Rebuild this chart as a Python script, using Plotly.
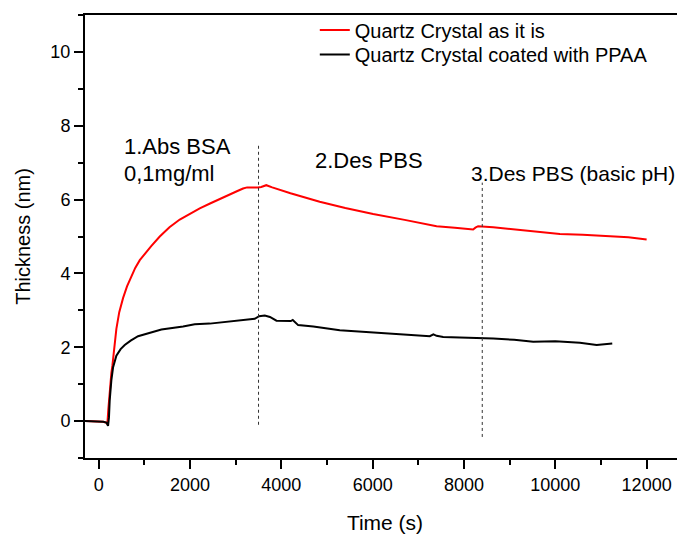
import plotly.graph_objects as go

# Quartz Crystal as it is (red)
red_t = [-300, 0, 100, 170, 190, 210, 240, 277, 300, 340, 387, 450, 533, 620, 716, 800, 900, 1000,
         1150, 1337, 1550, 1775, 2000, 2213, 2450, 2651, 2900, 3050, 3162, 3250, 3491, 3560, 3670,
         3800, 4200, 4840, 5400, 6010, 6700, 7400, 7800, 8200, 8250, 8310, 8640, 9300, 10100,
         10600, 11200, 11600, 12000]
red_y = [0, 0, -0.02, -0.05, -0.07, 0.3, 0.8, 1.3, 1.5, 2.0, 2.5, 2.95, 3.33, 3.65, 3.93, 4.15, 4.36, 4.52,
         4.74, 5.0, 5.25, 5.46, 5.62, 5.76, 5.9, 6.02, 6.16, 6.24, 6.3, 6.33, 6.33, 6.34, 6.39,
         6.33, 6.17, 5.94, 5.77, 5.61, 5.45, 5.28, 5.24, 5.19, 5.24, 5.28, 5.25, 5.16, 5.07,
         5.05, 5.01, 4.98, 4.92]

# Quartz Crystal coated with PPAA (black)
blk_t = [-300, 0, 100, 168, 205, 225, 241, 277, 314, 387, 480, 570, 700, 862, 1100, 1373, 1848,
         2103, 2432, 3017, 3418, 3513, 3637, 3750, 3893, 4207, 4250, 4368, 4700,
         5280, 6000, 6700, 7252, 7330, 7400, 7544, 8000, 8641, 9100, 9516, 10000, 10539, 10905, 11247]
blk_y = [0, 0, -0.02, -0.04, -0.13, 0.1, 0.56, 1.10, 1.45, 1.77, 1.95, 2.06, 2.18, 2.30, 2.39, 2.48, 2.56,
         2.62, 2.64, 2.71, 2.77, 2.84, 2.86, 2.82, 2.72, 2.71, 2.74, 2.60, 2.56,
         2.46, 2.40, 2.35, 2.30, 2.35, 2.31, 2.28, 2.27, 2.24, 2.20, 2.15, 2.16, 2.12, 2.06, 2.10]

series_names = ["Quartz Crystal as it is", "Quartz Crystal coated with PPAA"]

# phase markers (time, bottom, top)
phase_x = [3500, 8400]
phase_y0 = [-0.1, -0.43]
phase_y1 = [7.53, 6.46]

labels = [("1.Abs BSA", 504, 7.45, 22), ("0,1mg/ml", 504, 6.72, 22),
          ("2.Des PBS", 4689, 7.05, 22), ("3.Des PBS (basic pH)", 8110, 6.72, 21)]

FONT = "Liberation Sans, Arial, sans-serif"

fig = go.Figure()
fig.add_trace(go.Scatter(x=red_t, y=red_y, mode="lines", name=series_names[0],
                         line=dict(color="#ff0000", width=2), legend="legend"))
fig.add_trace(go.Scatter(x=blk_t, y=blk_y, mode="lines", name=series_names[1],
                         line=dict(color="#000000", width=2), legend="legend2"))

for x, y0, y1 in zip(phase_x, phase_y0, phase_y1):
    fig.add_shape(type="line", x0=x, x1=x, y0=y0, y1=y1, xref="x", yref="y",
                  line=dict(color="#333333", width=1, dash="dot"))

for txt, x, y, sz in labels:
    fig.add_annotation(x=x, y=y, text=txt, showarrow=False, xanchor="left", yanchor="middle",
                       font=dict(size=sz, color="#000000", family=FONT))

leg_common = dict(xanchor="left", yanchor="middle", bgcolor="rgba(0,0,0,0)",
                  font=dict(size=20, color="#000000"), itemwidth=30)

fig.update_layout(
    width=685, height=548,
    margin=dict(l=77, r=8, t=3, b=98),
    paper_bgcolor="white", plot_bgcolor="white",
    font=dict(family=FONT, color="#000000"),
    showlegend=True,
    legend=dict(x=0.383, y=0.966, **leg_common),
    legend2=dict(x=0.383, y=0.911, **leg_common),
    xaxis=dict(range=[-300, 12840], showgrid=False, zeroline=False, automargin=False,
               showline=True, linecolor="black", linewidth=2, mirror=True,
               ticks="outside", ticklen=9, tickwidth=2, tickcolor="black",
               dtick=2000, tick0=0, tickformat="d", tickfont=dict(size=18),
               minor=dict(dtick=1000, ticks="outside", ticklen=5, tickwidth=1.5, tickcolor="black"),
               title=dict(text="Time (s)", font=dict(size=21), standoff=22)),
    yaxis=dict(range=[-1, 11], showgrid=False, zeroline=False, automargin=False,
               showline=True, linecolor="black", linewidth=2, mirror=False,
               ticks="outside", ticklen=9, tickwidth=2, tickcolor="black",
               dtick=2, tick0=0, tickformat="d", tickfont=dict(size=18),
               minor=dict(dtick=1, ticks="outside", ticklen=5, tickwidth=1.5, tickcolor="black"),
               title=dict(text="Thickness (nm)", font=dict(size=20), standoff=14)),
)

fig.write_html("out.html")
